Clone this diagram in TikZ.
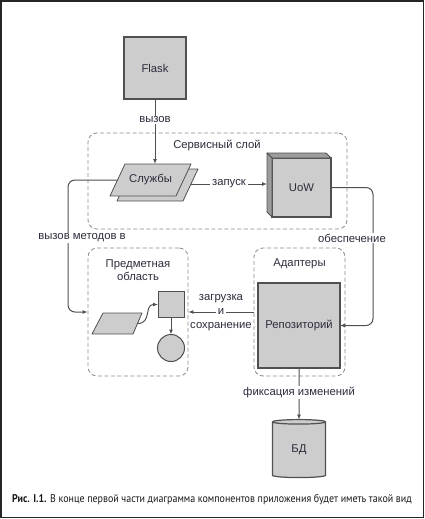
\documentclass[tikz,border=0pt]{standalone}
\usepackage{fontspec}
\setmainfont{Liberation Sans}
\newfontfamily\capfont[FakeStretch=0.89]{PT Sans}
\usetikzlibrary{arrows.meta,positioning,shapes.geometric}
\definecolor{boxgray}{HTML}{CDCDCD}
\definecolor{sidegray}{HTML}{9C9C9C}
\definecolor{edgegray}{HTML}{505050}
\definecolor{dashgray}{HTML}{8C8C8C}
\definecolor{inkblue}{HTML}{2C2C3C}
\tikzset{
  lbl/.style={text=inkblue, font=\fontsize{11.3}{13}\selectfont, inner sep=1pt},
  tag/.style={lbl, fill=white, inner xsep=2pt},
  block/.style={lbl, draw=edgegray, fill=boxgray, line width=1.2pt, inner sep=0pt, outer sep=0pt},
  face/.style={draw=edgegray, line width=0.8pt, line join=round},
  layer/.style={draw=dashgray, dash pattern=on 4pt off 2.5pt, line width=0.8pt, rounded corners=9pt, inner sep=0pt},
  link/.style={draw=edgegray, line width=1pt, -{Latex[length=5pt,width=4pt]}},
}

\begin{document}
\begin{tikzpicture}[x=1pt,y=-1pt]
    \useasboundingbox (0,0) rectangle (425,519);
    \draw[line width=1.5pt, black!85] (1,1) rectangle (423.5,517.5);

    \node[layer, minimum width=259pt, minimum height=96pt] (svclayer) at (217.5,181) {};
    \node[lbl] (svctitle) at (217,145) {Сервисный слой};
    \node[layer, minimum width=100pt, minimum height=128pt] (domain) at (138,312) {};
    \node[lbl, align=center] (domtitle) at (138,270) {Предметная\\область};
    \node[layer, minimum width=91pt, minimum height=128pt] (adapt) at (299.5,312) {};
    \node[lbl] (adtitle) at (299.5,264) {Адаптеры};

    \node[block, minimum size=62pt] (flask) at (155,68) {Flask};

    \foreach \dx/\dy in {7/5,0/0}{
        \filldraw[face, fill=boxgray, shift={(\dx,\dy)}] (125,164) -- (191,164) -- (176,196) -- (110,196) -- cycle;
    }
    \node[lbl] (svc) at (150.5,180) {Службы};
    \coordinate (svctop) at (155,164);
    \coordinate (svcleft) at (117.5,180);
    \coordinate (svcright) at (191,184);

    \node[block, minimum size=59pt] (uow) at (301.5,187.5) {UoW};
    \filldraw[face, fill=sidegray] (uow.north west) -- ++(-5,-5) -- ++(59,0) -- (uow.north east) -- cycle;
    \filldraw[face, fill=sidegray] (uow.north west) -- ++(-5,-5) -- ++(0,59) -- (uow.south west) -- cycle;
    \coordinate (uowback) at (267,184);

    \node[block, line width=1pt, minimum size=26pt] (ent) at (171,304.5) {};
    \node[block, line width=1pt, circle, minimum size=27pt] (val) at (171,348) {};
    \filldraw[face, fill=boxgray] (103,313) -- (142,313) -- (133,334) -- (92,334) -- cycle;
    \coordinate (evt) at (137.5,323.5);

    \node[block, minimum width=82pt, minimum height=85pt] (repo) at (299,325.5) {Репозиторий};
    \node[block, cylinder, shape border rotate=90, aspect=0.3, minimum width=53pt, minimum height=58pt] (db) at (299,450) {БД};

    \draw[link] (flask) -- node[tag, pos=0.32] {вызов} (svctop);
    \draw[link] (svcright) -- node[tag] {запуск} (uowback);
    \draw[link, rounded corners=7pt] (svcleft) -- (68,180) -- (68,312) -- (domain.west);
    \node[tag] (calllbl) at (82,238) {вызов методов в};
    \draw[link, rounded corners=7pt] (uow.east) -- (373,187.5) -- (373,325.5) -- (repo.east);
    \node[tag] (provlbl) at (352,238) {обеспечение};
    \draw[link] (ent) -- (val);
    \draw[link] (evt) .. controls (152,323.5) and (144,304.5) .. (ent.west);
    \draw[link] (adapt.west) -- node[tag] (andlbl) {и} (domain.east);
    \node[lbl, anchor=base] (loadlbl) at ([yshift=14.5pt]andlbl.base) {загрузка};
    \node[lbl, anchor=base] (savelbl) at ([yshift=-14pt]andlbl.base) {сохранение};
    \draw[link] (repo) -- node[tag, pos=0.47] {фиксация изменений} (db);

    \node[text=black!90, font=\capfont\fontsize{11.2}{13}\selectfont] (cap) at (212,500)
        {\textbf{Рис. I.1.} В конце первой части диаграмма компонентов приложения будет иметь такой вид};
\end{tikzpicture}
\end{document}
